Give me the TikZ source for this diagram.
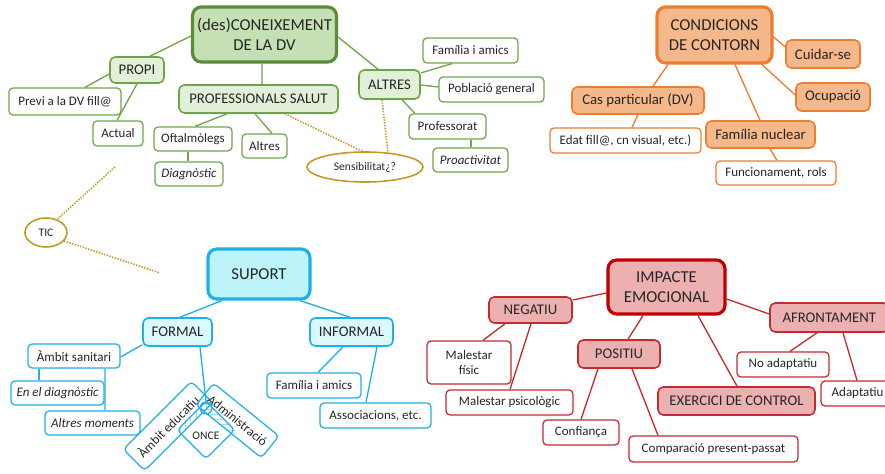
\documentclass[tikz,border=0pt]{standalone}
\usepackage{fontspec}
\setmainfont{Carlito}
\usetikzlibrary{calc,backgrounds,patterns,shapes.geometric}

% palette
\definecolor{gDark}{HTML}{5B8C3A}
\definecolor{gMid}{HTML}{6FA548}
\definecolor{gFillA}{HTML}{C5E0B4}
\definecolor{gFillB}{HTML}{E2F0D9}
\definecolor{gold}{HTML}{C49A22}
\definecolor{oLine}{HTML}{ED7D31}
\definecolor{oFill}{HTML}{F5B88A}
\definecolor{bLine}{HTML}{1FB1E6}
\definecolor{bFillA}{HTML}{BDF4F9}
\definecolor{bFillB}{HTML}{DBF8FC}
\definecolor{rDark}{HTML}{C00000}
\definecolor{rLine}{HTML}{C42B30}
\definecolor{rFill}{HTML}{EDB0B0}

\begin{document}
\begin{tikzpicture}[x=0.02cm,y=-0.02cm,
  sz/.style 2 args={minimum width=#1*0.02cm, minimum height=#2*0.02cm},
  base/.style={rectangle, rounded corners=2.3pt, inner sep=0pt, align=center, fill=white, text=black!85},
  leaf/.style={base, line width=0.7pt, font=\fontsize{7.4}{8.6}\selectfont},
  mid/.style={base, rounded corners=3pt, line width=0.9pt, font=\fontsize{8.4}{10}\selectfont},
  hub/.style={base, rounded corners=5pt, line width=1.8pt, font=\fontsize{9.5}{11.7}\selectfont},
  oval/.style={ellipse, draw=gold, line width=0.9pt, inner sep=0pt, fill=white, text=black!85, font=\fontsize{6.6}{8}\selectfont},
  ghub/.style={hub, draw=gDark, fill=gFillA},
  gmid/.style={mid, draw=gMid, fill=gFillB},
  gleaf/.style={leaf, draw=gMid},
  ohub/.style={hub, draw=oLine, fill=oFill},
  omid/.style={mid, draw=oLine, fill=oFill},
  oleaf/.style={leaf, draw=oLine},
  bhub/.style={hub, draw=bLine, fill=bFillA},
  bmid/.style={mid, draw=bLine, fill=bFillB},
  bleaf/.style={leaf, draw=bLine},
  rhub/.style={hub, draw=rDark, fill=rFill},
  rmid/.style={mid, draw=rLine, fill=rFill},
  rleaf/.style={leaf, draw=rLine},
  glink/.style={draw=gMid, line width=0.75pt},
  olink/.style={draw=oLine, line width=0.75pt},
  blink/.style={draw=bLine, line width=0.75pt},
  rlink/.style={draw=rLine, line width=0.75pt},
  hint/.style={draw=gold, line width=0.9pt, dash pattern=on 0.8pt off 0.8pt}
]
\useasboundingbox (0,0) rectangle (885,473);

% ---------- (des)coneixement ----------
\node[ghub, sz={144}{55}] (des) at (264.5,34.5) {(des)CONEIXEMENT\\DE LA DV};
\node[gmid, sz={54}{26}] (propi) at (137,70) {PROPI};
\node[gleaf, sz={112}{27}] (previ) at (65,101.5) {Previ a la DV fill@};
\node[gleaf, sz={50}{25}] (actual) at (118,133.5) {Actual};
\node[gmid, sz={159}{28}] (prof) at (258.5,99) {PROFESSIONALS SALUT};
\node[gleaf, sz={78}{24}] (oft) at (193,139) {Oftalmòlegs};
\node[gleaf, sz={68}{24}] (diag) at (189,174) {\itshape Diagnòstic};
\node[gleaf, sz={45}{24}] (altresP) at (264.5,146) {Altres};
\node[oval, sz={116}{30}] (sens) at (365,167) {Sensibilitat¿?};
\node[gmid, sz={61}{29}] (altres) at (389.5,84.5) {ALTRES};
\node[gleaf, sz={95}{25}] (famG) at (470.5,50.5) {Família i amics};
\node[gleaf, sz={105}{25}] (pob) at (491.5,89.5) {Població general};
\node[gleaf, sz={77}{25}] (profe) at (447.5,126.5) {Professorat};
\node[gleaf, sz={75}{24}] (proac) at (470.5,160) {\itshape Proactivitat};
\node[oval, sz={42}{29}] (tic) at (46,232.5) {TIC};
\coordinate (ticA) at (115,167);
\coordinate (ticB) at (160,273);

% ---------- condicions de contorn ----------
\node[ohub, sz={115}{56}] (cond) at (714.5,35) {CONDICIONS\\DE CONTORN};
\node[omid, sz={74}{28}] (cuid) at (823,54) {Cuidar-se};
\node[omid, sz={74}{28}] (ocup) at (833,97) {Ocupació};
\node[omid, sz={132}{27}] (cas) at (638,100.5) {Cas particular (DV)};
\node[oleaf, sz={151}{25}] (edat) at (625.5,140.5) {Edat fill@, cn visual, etc.)};
\node[omid, sz={109}{27}] (famN) at (760.5,134.5) {Família nuclear};
\node[oleaf, sz={120}{24}] (func) at (776,173) {Funcionament, rols};

% ---------- suport ----------
\node[bhub, sz={102}{50}] (sup) at (259,274) {SUPORT};
\node[bmid, sz={69}{28}] (formal) at (177.5,332) {FORMAL};
\node[bmid, sz={83}{28}] (informal) at (351.5,332) {INFORMAL};
\node[bleaf, sz={92}{24}] (sani) at (74,356) {Àmbit sanitari};
\node[bleaf, sz={93}{24}] (endiag) at (57.5,393) {\itshape En el diagnòstic};
\node[bleaf, sz={95}{24}] (altm) at (92.5,423) {\itshape Altres moments};
\node[bleaf, sz={94}{25}] (famB) at (314,385.5) {Família i amics};
\node[bleaf, sz={111}{25}] (assoc) at (375.5,415.5) {Associacions, etc.};
\node[bleaf, fill=none, rotate=45, sz={96}{30}] (amb) at (168,426) {Àmbit educatiu};
\node[bleaf, fill=none, rotate=-39, sz={84}{28}] (adm) at (237.5,420.5) {Administració};
\node[diamond, aspect=1, draw=bLine, line width=0.7pt, rounded corners=2.3pt,
      inner sep=0pt, sz={58}{58}] (once) at (206,430) {};
\node[font=\fontsize{6.6}{8}\selectfont, text=black!85, inner sep=0pt] (oncet) at (206,436) {ONCE};
\node[circle, draw=bLine, line width=0.7pt, minimum size=12*0.02cm, inner sep=0pt] (jn) at (206,408) {};

% ---------- impacte emocional ----------
\node[rhub, sz={117}{54}] (imp) at (666.5,287) {IMPACTE\\EMOCIONAL};
\node[rmid, sz={83}{26}] (neg) at (530.5,310) {NEGATIU};
\node[rmid, sz={82}{28}] (pos) at (619,354) {POSITIU};
\node[rmid, sz={118.6}{29}] (afr) at (829.3,317.5) {AFRONTAMENT};
\node[rmid, sz={157}{28}] (exer) at (736.5,401) {EXERCICI DE CONTROL};
\node[rleaf, sz={84}{43}] (mfis) at (469,362.5) {Malestar\\físic};
\node[rleaf, sz={127}{25}] (mpsi) at (509.5,402.5) {Malestar psicològic};
\node[rleaf, sz={76}{25}] (conf) at (581,432.5) {Confiança};
\node[rleaf, sz={169}{26}] (comp) at (713.5,449) {Comparació present-passat};
\node[rleaf, sz={92}{25}] (noad) at (783,364.5) {No adaptatiu};
\node[rleaf, sz={73}{25}] (adap) at (857.5,393.5) {Adaptatiu};

\begin{scope}[on background layer]
  \fill[white] (0,0) rectangle (885,473);

  % overlaps of the education/administration boxes with ONCE
  \begin{scope}
    \clip (amb.north west) -- (amb.north east) -- (amb.south east) -- (amb.south west) -- cycle;
    \fill[pattern=vertical lines, pattern color=bLine!45]
      (once.north) -- (once.east) -- (once.south) -- (once.west) -- cycle;
  \end{scope}
  \begin{scope}
    \clip (adm.north west) -- (adm.north east) -- (adm.south east) -- (adm.south west) -- cycle;
    \fill[pattern=horizontal lines, pattern color=bLine!45]
      (once.north) -- (once.east) -- (once.south) -- (once.west) -- cycle;
  \end{scope}

  % green links
  \draw[glink] ($(des.west)+(0,1.5)$) -- ($(propi.north)+(13,0)$);
  \draw[glink] ($(propi.west)+(0,4)$) -- ($(previ.north)+(20,0)$);
  \draw[glink] (propi.south) -- ($(actual.north)+(-1,0)$);
  \draw[glink] ($(des.south)+(-2.5,0)$) -- ($(prof.north)+(3.5,0)$);
  \draw[glink] ($(des.east)+(0,2.5)$) -- ($(altres.north)+(-11.5,0)$);
  \draw[glink] ($(prof.south)+(-31.5,0)$) -- ($(oft.north)+(2,0)$);
  \draw[glink] ($(prof.south)+(-3.5,0)$) -- ($(altresP.north)+(7.5,0)$);
  \draw[glink] ($(oft.south)+(-5,0)$) -- ($(diag.north)+(-1,0)$);
  \draw[glink] ($(altres.east)+(0,-11.5)$) -- ($(famG.south)+(-18.5,0)$);
  \draw[glink] ($(altres.east)+(0,0.5)$) -- ($(pob.west)+(0,-2.5)$);
  \draw[glink] ($(altres.south)+(12.5,0)$) -- ($(profe.north)+(-32.5,0)$);
  \draw[glink] ($(profe.south)+(23.5,0)$) -- ($(proac.north)+(0.5,0)$);

  % dotted hints
  \draw[hint] ($(prof.south)+(26.5,0)$) -- ($(sens.north)+(-3,0)$);
  \draw[hint] ($(altres.south)+(-7.5,0)$) -- ($(sens.center)+(23,-13.8)$);
  \draw[hint] (ticA) -- (tic.50);
  \draw[hint] (tic.-25) -- (ticB);

  % orange links
  \draw[olink] ($(cond.east)+(0,2)$) -- ($(cuid.west)+(0,-7)$);
  \draw[olink] ($(cond.south)+(47.5,0)$) -- ($(ocup.west)+(0,-2)$);
  \draw[olink] ($(cond.south)+(-46.5,0)$) -- ($(cas.north)+(15,0)$);
  \draw[olink] ($(cond.south)+(20.5,0)$) -- ($(famN.north)+(-0.5,0)$);
  \draw[olink] (cas.south) -- ($(edat.north)+(6.5,0)$);
  \draw[olink] ($(famN.south)+(9.5,0)$) -- ($(func.north)+(1,0)$);

  % blue links
  \draw[blink] ($(sup.south)+(-37,0)$) -- ($(formal.north)+(2.5,0)$);
  \draw[blink] ($(sup.south)+(41,0)$) -- ($(informal.north)+(-1.5,0)$);
  \draw[blink] ($(formal.south west)+(0,-2)$) -- ($(sani.east)+(0,1)$);
  \draw[blink] ($(formal.south)+(22.5,0)$) -- (jn.north);
  \draw[blink] ($(sani.south)+(-35,0)$) -- ($(endiag.north)+(-18.5,0)$);
  \draw[blink] ($(sani.south)+(31,0)$) -- ($(altm.north)+(12.5,0)$);
  \draw[blink] ($(informal.south)+(-8.5,0)$) -- ($(famB.north)+(4,0)$);
  \draw[blink] ($(informal.south)+(25.5,0)$) -- ($(assoc.north)+(-9.5,0)$);

  % red links
  \draw[rlink] ($(imp.west)+(0,6)$) -- ($(neg.east)+(0,-10)$);
  \draw[rlink] ($(imp.south)+(-23.5,0)$) -- ($(pos.north)+(9,0)$);
  \draw[rlink] ($(imp.south)+(31.5,0)$) -- ($(exer.north)+(0.5,0)$);
  \draw[rlink] ($(imp.east)+(0,12)$) -- ($(afr.west)+(0,-3.5)$);
  \draw[rlink] ($(neg.south)+(-25.5,0)$) -- ($(mfis.north)+(14,0)$);
  \draw[rlink] ($(neg.south)+(0.5,0)$) -- ($(mpsi.north)+(0.5,0)$);
  \draw[rlink] ($(pos.south)+(-21,0)$) -- (conf.north);
  \draw[rlink] ($(pos.south)+(13,0)$) -- ($(comp.north)+(-55.5,0)$);
  \draw[rlink] ($(afr.south)+(-12.3,0)$) -- ($(noad.north)+(7,0)$);
  \draw[rlink] ($(afr.south)+(13.7,0)$) -- ($(adap.north)+(-0.5,0)$);
\end{scope}
\end{tikzpicture}
\end{document}
